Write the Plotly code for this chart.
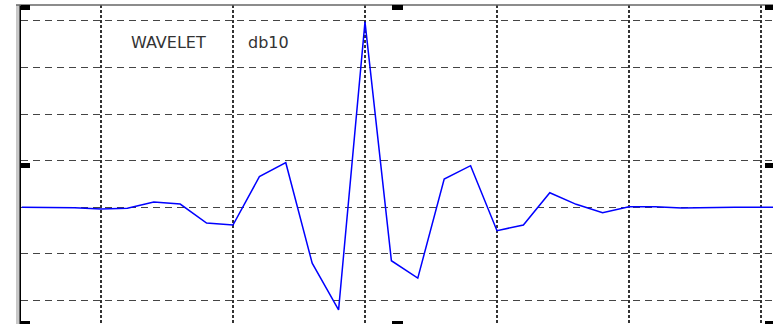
import plotly.graph_objects as go

# sample index of the wavelet (db10) and its values (in grid units)
sample_index = list(range(0, 30))
psi_values = [0.0, 0.0, -0.01, -0.036, -0.02, 0.114, 0.07, -0.337, -0.38, 0.657,
              0.957, -1.2, -2.2, 3.98, -1.146, -1.52, 0.607, 0.893, -0.502, -0.38,
              0.313, 0.064, -0.116, 0.013, 0.01, -0.013, 0.0, 0.0, 0.0, 0.0]

label_wavelet = "WAVELET"
label_name = "db10"

W, H = 773, 324
ML, MR, MT, MB = 21, 0, 5, 0
pw, ph = W - ML - MR, H - MT - MB


def px(x):
    return (x - ML) / pw


def py(y):
    return (H - MB - y) / ph


fig = go.Figure()
fig.add_trace(go.Scatter(
    x=sample_index, y=psi_values, mode="lines",
    line=dict(color="#0000ff", width=1.5), hoverinfo="skip", showlegend=False,
))

shapes = []
# light gray frame stripe left of the axis
shapes.append(dict(type="rect", xref="paper", yref="paper", x0=px(16), x1=px(19.5),
                   y0=0, y1=1, fillcolor="#c8c8c8", line=dict(width=0), layer="above"))
# top border
shapes.append(dict(type="line", xref="paper", yref="paper", x0=px(16), x1=1,
                   y0=py(5), y1=py(5), line=dict(color="#666666", width=1.5), layer="above"))
# thick black tick marks
marks = [
    (21, 30, 5, 10), (21, 30, 163, 168), (21, 30, 321, 324),
    (765, 773, 5, 10), (765, 773, 163, 168), (765, 773, 321, 324),
    (392, 403, 5, 10), (392, 403, 321, 324),
]
for x0, x1, y0, y1 in marks:
    shapes.append(dict(type="rect", xref="paper", yref="paper",
                       x0=px(x0), x1=px(x1), y0=py(y1), y1=py(y0),
                       fillcolor="black", line=dict(width=0), layer="above"))

fig.update_layout(
    width=W, height=H,
    margin=dict(l=ML, r=MR, t=MT, b=MB, pad=0),
    paper_bgcolor="white", plot_bgcolor="white",
    shapes=shapes,
    xaxis=dict(range=[-0.03, -0.03 + pw / 26.4], tick0=3, dtick=5,
               showticklabels=False, ticks="", zeroline=False,
               showgrid=True, gridcolor="#333333", gridwidth=2, griddash="3px,2px",
               showline=False, fixedrange=True),
    yaxis=dict(range=[(207.3 - 324) / 46.6, (207.3 - 5) / 46.6], tick0=0, dtick=1,
               showticklabels=False, ticks="", zeroline=False,
               showgrid=True, gridcolor="#444444", gridwidth=1, griddash="7px,5px",
               showline=True, linecolor="black", linewidth=1.5, fixedrange=True),
    annotations=[
        dict(text=label_wavelet, xref="paper", yref="paper", x=px(168.5), y=py(43),
             xanchor="center", yanchor="middle", showarrow=False,
             font=dict(family="DejaVu Sans", size=16, color="#333333")),
        dict(text=label_name, xref="paper", yref="paper", x=px(268), y=py(43),
             xanchor="center", yanchor="middle", showarrow=False,
             font=dict(family="DejaVu Sans", size=16, color="#333333")),
    ],
)

fig.write_html(
    "out.html",
    config={"displayModeBar": False},
    post_script="document.body.style.margin='0';document.body.style.overflow='hidden';",
)
